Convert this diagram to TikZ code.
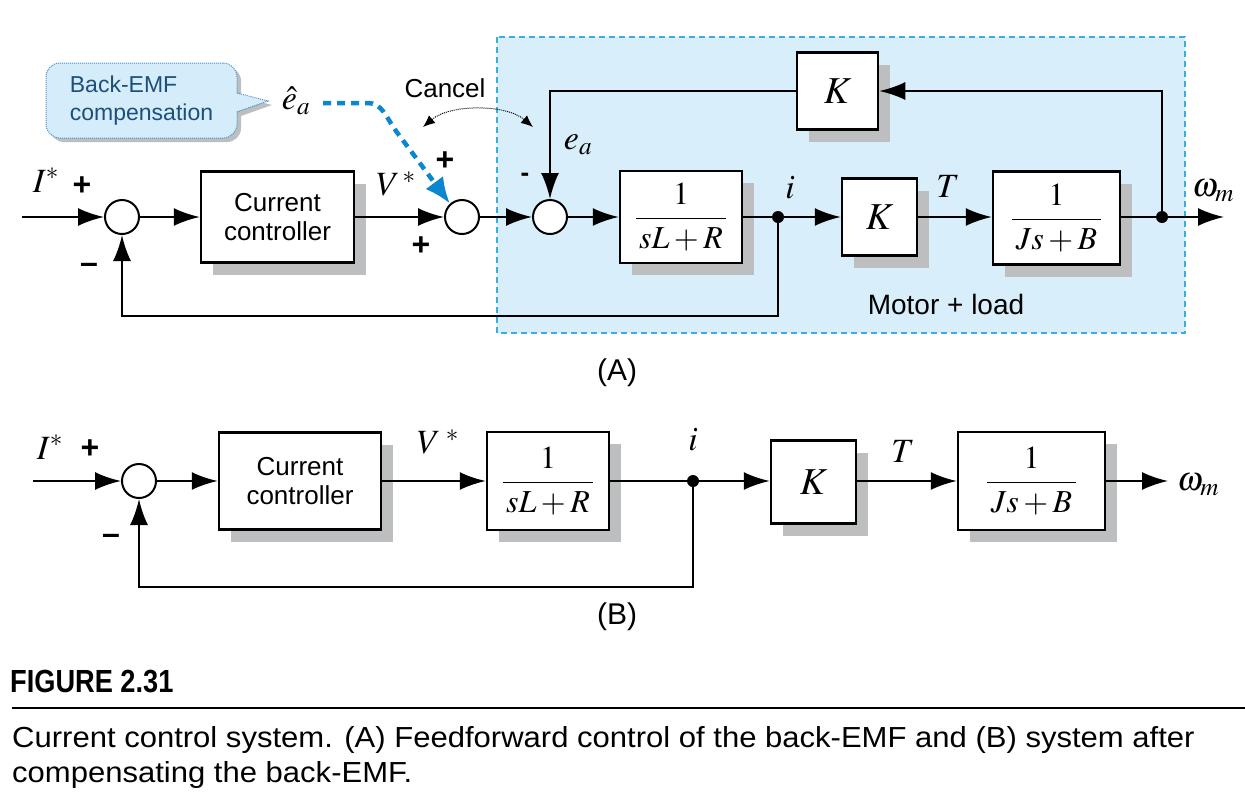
\documentclass[tikz,border=0pt]{standalone}
\usepackage{amsmath}
\usepackage{mathptmx}
\usepackage[no-math]{fontspec}
\setmainfont{Liberation Sans}
\newfontfamily\figfont[FakeStretch=0.85]{Liberation Sans}
\newfontfamily\capfont[FakeStretch=1.07]{Liberation Sans}
\usetikzlibrary{
    arrows.meta,
    calc,
    shadows
}

\definecolor{panelfill}{HTML}{D8EFFB}
\definecolor{paneledge}{HTML}{3AAEE3}
\definecolor{calloutfill}{HTML}{D5EDFA}
\definecolor{calloutedge}{HTML}{4A8FC8}
\definecolor{callouttext}{HTML}{1D4F7C}
\definecolor{ffblue}{HTML}{0A87CF}
\definecolor{shadowgray}{HTML}{BCBEC0}

\newcommand{\mathsize}{\fontsize{34}{38}\selectfont}
\newcommand{\fracsize}{\fontsize{32}{36}\selectfont}
\newcommand{\gainsize}{\fontsize{38}{40}\selectfont}
\newcommand{\textsize}{\fontsize{26}{29}\selectfont}

\tikzset{
    block/.style={draw, line width=2.5pt, fill=white, inner sep=0pt, font=\fracsize,
        drop shadow={shadow xshift=12pt, shadow yshift=-12pt, fill=shadowgray, opacity=1}},
    sumnode/.style={draw, circle, line width=2pt, fill=white, minimum size=34pt, inner sep=0pt},
    dotnode/.style={circle, fill=black, minimum size=12pt, inner sep=0pt},
    sig/.style={line width=2.3pt, -{Latex[length=26pt,width=18pt]}},
    wire/.style={line width=2.3pt},
    mathlabel/.style={font=\mathsize, inner sep=0pt},
    sign/.style={font=\fontsize{32}{34}\selectfont\bfseries, inner sep=0pt},
    plainlabel/.style={font=\fontsize{26}{29}\selectfont, inner sep=0pt},
    panelbg/.style={fill=panelfill, draw=paneledge, line width=1.2pt, dash pattern=on 6pt off 4pt},
    callout/.style={draw=calloutedge, densely dotted, line width=1pt, fill=calloutfill,
        rounded corners=14pt, text=callouttext, align=left, minimum width=191pt, minimum height=75pt,
        font=\fontsize{23}{28}\selectfont,
        drop shadow={shadow xshift=4pt, shadow yshift=-4pt, fill=shadowgray, opacity=1}},
    ffarrow/.style={draw=ffblue, line width=4.5pt, dash pattern=on 8pt off 6pt,
        -{Latex[length=26pt,width=22pt]}},
    cancelarrow/.style={line width=1pt, densely dotted,
        {Latex[length=12pt,width=10pt]}-{Latex[length=12pt,width=10pt]}}
}

\begin{document}
\begin{tikzpicture}[x=1pt,y=-1pt]
\useasboundingbox (0,0) rectangle (1245,807);

% Motor + load region
\draw[panelbg] (497,37) rectangle (1185,333);

% Back-EMF callout
\fill[shadowgray] (241,97) -- (272,105) -- (241,116) -- cycle;
\node[callout] (bemf) at (141.5,100.5) {Back-EMF\\compensation};
\fill[calloutfill] (235,93) -- (268,101) -- (235,112) -- cycle;
\draw[draw=calloutedge, densely dotted, line width=1pt] (237,93) -- (268,101) -- (237,112);

% (A) blocks
\node[sumnode] (sa1) at (122,217) {};
\node[sumnode] (sa2) at (462,217) {};
\node[sumnode] (sa3) at (550,217) {};
\node[block, minimum width=153pt, minimum height=91pt, font=\textsize, align=center] (ccA) at (277.5,217) {Current\\controller};
\node[block, minimum width=122pt, minimum height=92pt] (g1A) at (681,217) {$\dfrac{1}{\,sL+R\,}$};
\node[dotnode] (jiA) at (778,217) {};
\node[block, minimum width=75pt, minimum height=77pt, font=\gainsize] (kA) at (879.5,217) {$K$};
\node[block, minimum width=127pt, minimum height=93pt] (g2A) at (1056.5,218) {$\dfrac{1}{\,Js+B\,}$};
\node[dotnode] (jwA) at (1162,217) {};
\node[block, minimum width=81pt, minimum height=77pt, font=\gainsize] (kfb) at (837.5,91) {$K$};
\coordinate (inA) at (22,217);
\coordinate (outA) at (1224,217);

% (A) labels
\node[mathlabel] (lIA) at (46,180) {$I^{*}$};
\node[sign] (p1A) at (82,186) {+};
\node[sign] (m1A) at (89,268) {–};
\node[mathlabel] (lVA) at (396,184) {$V^{\,*}$};
\node[sign] (p2A) at (445,161) {+};
\node[sign] (p3A) at (421,246) {+};
\node[sign, font=\fontsize{26}{28}\selectfont\bfseries] (m3A) at (525,177) {-};
\node[mathlabel] (leA) at (578,145) {$e_a$};
\node[mathlabel] (liA) at (790,188) {$i$};
\node[mathlabel] (lTA) at (948,186) {$T$};
\node[mathlabel] (lwA) at (1213,191) {$\omega_m$};
\node[mathlabel] (ehat) at (296,101) {$\hat{e}_a$};
\node[plainlabel] (cancel) at (445,88) {Cancel};
\node[plainlabel, font=\fontsize{28}{30}\selectfont] (motor) at (946,304) {Motor + load};
\node[font=\fontsize{30}{34}\selectfont] (capA) at (617,373) {(A)};

% (A) connectors
\draw[sig] (inA) -- (sa1);
\draw[sig] (sa1) -- (ccA);
\draw[sig] (ccA) -- (sa2);
\draw[sig] (sa2) -- (sa3);
\draw[sig] (sa3) -- (g1A);
\draw[wire] (g1A) -- (jiA);
\draw[sig] (jiA) -- (kA);
\draw[sig] (kA) -- (g2A.west |- kA);
\draw[wire] (g2A.east |- jwA) -- (jwA);
\draw[sig] (jwA) -- (outA);
\draw[sig] (jwA) |- (kfb.east);
\draw[sig] (kfb.west) -| (sa3.north);
\draw[sig] (jiA) -- (jiA |- 0,316) -| (sa1.south);

% feedforward and cancel
\draw[ffarrow] (323,103) -- (368,103) .. controls (382,103) and (386,117) .. (396,131) -- (sa2.132);
\coordinate (cl) at (423,127);
\coordinate (cr) at (533,127);
\draw[cancelarrow] (cl) .. controls (450,104) and (506,104) .. (cr);

% (B) blocks
\node[sumnode] (sb1) at (139,481) {};
\node[block, minimum width=162pt, minimum height=97pt, font=\textsize, align=center] (ccB) at (300,481) {Current\\controller};
\node[block, minimum width=122pt, minimum height=98pt] (g1B) at (548,481) {$\dfrac{1}{\,sL+R\,}$};
\node[dotnode] (jiB) at (693,481) {};
\node[block, minimum width=85pt, minimum height=83pt, font=\gainsize] (kB) at (813.5,482) {$K$};
\node[block, minimum width=147pt, minimum height=98pt] (g2B) at (1031.5,481) {$\dfrac{1}{\,Js+B\,}$};
\coordinate (inB) at (33,481);
\coordinate (outB) at (1168,481);

% (B) labels
\node[mathlabel] (lIB) at (50,447) {$I^{*}$};
\node[sign] (p1B) at (90,449) {+};
\node[sign] (m1B) at (111,539) {–};
\node[mathlabel] (lVB) at (438,442) {$V^{\;*}$};
\node[mathlabel] (liB) at (693,440) {$i$};
\node[mathlabel] (lTB) at (903,451) {$T$};
\node[mathlabel] (lwB) at (1198,485) {$\omega_m$};
\node[font=\fontsize{30}{34}\selectfont] (capB) at (617,617) {(B)};

% (B) connectors
\draw[sig] (inB) -- (sb1);
\draw[sig] (sb1) -- (ccB);
\draw[sig] (ccB) -- (g1B);
\draw[wire] (g1B) -- (jiB);
\draw[sig] (jiB) -- (kB.west |- jiB);
\draw[sig] (kB.east |- jiB) -- (g2B);
\draw[sig] (g2B) -- (outB);
\draw[sig] (jiB) -- (jiB |- 0,587) -| (sb1.south);

% caption
\node[anchor=base west, inner sep=0pt, font=\figfont\bfseries\fontsize{32}{34}\selectfont] (fig) at (10,692) {FIGURE 2.31};
\draw[line width=2.2pt] (12,708) -- (1245,708);
\node[anchor=base west, inner sep=0pt, font=\capfont\fontsize{29}{35}\selectfont] (cap1) at (12,747) {Current control system. (A) Feedforward control of the back-EMF and (B) system after};
\node[anchor=base west, inner sep=0pt, font=\capfont\fontsize{29}{35}\selectfont] (cap2) at (12,782) {compensating the back-EMF.};
\end{tikzpicture}
\end{document}
